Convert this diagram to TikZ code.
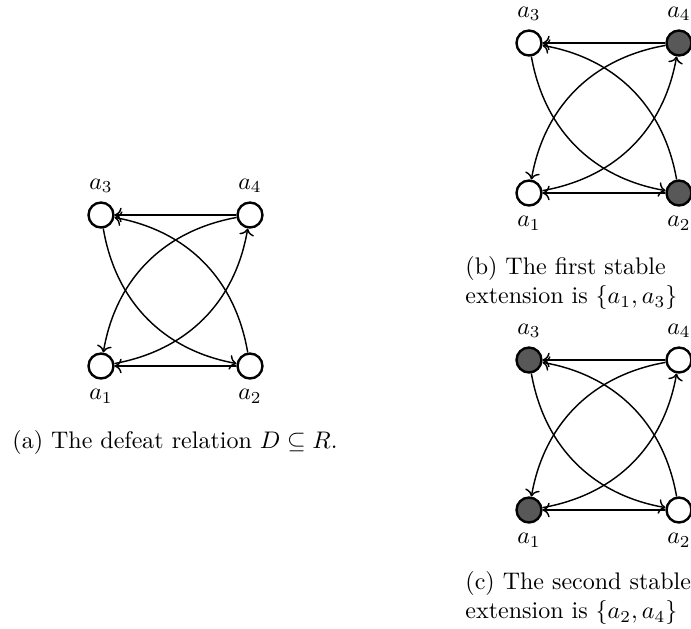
\documentclass[tikz,border=0pt]{standalone}
\usepackage{amsmath,amssymb}
\usepackage{xcolor}
\usepackage{tikz}
\usetikzlibrary{arrows.meta,positioning}
\definecolor{inext}{RGB}{88,88,88}

\begin{document}
\begin{tikzpicture}[
  x=0.4167pt, y=-0.4167pt,
  arg/.style={draw, circle, line width=1pt, fill=white, minimum size=10.4pt, inner sep=0pt},
  sel/.style={arg, fill=inext},
  up/.style={label={[label distance=0pt]above:#1}},
  down/.style={label={[label distance=0.5pt]below:#1}},
  arr/.style={-{To}, semithick},
  curv/.style={arr, bend right=35},
  capt/.style={align=left, anchor=west, inner sep=0pt}
]
\useasboundingbox (0,0) rectangle (691,629);
% (a) defeat relation
\node[arg, up=$a_3$] (a3) at (101,215) {};
\node[arg, up=$a_4$] (a4) at (250,215) {};
\node[arg, down=$a_1$] (a1) at (101,366) {};
\node[arg, down=$a_2$] (a2) at (250,366) {};
\node[capt] (capa) at (12,442) {(a) The defeat relation $D \subseteq R$.};
% (b) first stable extension
\node[arg, up=$a_3$] (b3) at (529,43) {};
\node[sel, up=$a_4$] (b4) at (679,43) {};
\node[arg, down=$a_1$] (b1) at (529,193) {};
\node[sel, down=$a_2$] (b2) at (679,193) {};
\node[capt] (capb) at (465,283) {(b) The first stable\\extension is $\{a_1, a_3\}$};
% (c) second stable extension
\node[sel, up=$a_3$] (c3) at (529,360) {};
\node[arg, up=$a_4$] (c4) at (679,360) {};
\node[sel, down=$a_1$] (c1) at (529,510) {};
\node[arg, down=$a_2$] (c2) at (679,510) {};
\node[capt] (capc) at (465,598) {(c) The second stable\\extension is $\{a_2, a_4\}$};
\foreach \g in {a,b,c} {
  \draw[arr] (\g4) -- (\g3);
  \draw[arr] (\g2) -- (\g1);
  \draw[curv] (\g3) to (\g2);
  \draw[curv] (\g2) to (\g3);
  \draw[curv] (\g4) to (\g1);
  \draw[curv] (\g1) to (\g4);
}
\end{tikzpicture}
\end{document}
